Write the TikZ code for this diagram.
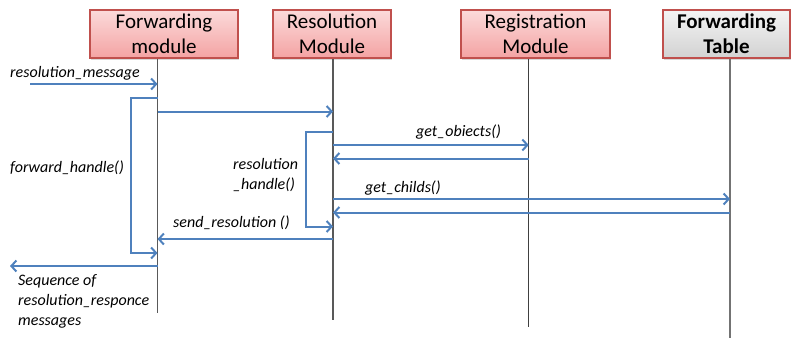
\documentclass[tikz,border=0pt]{standalone}
\usepackage{fontspec}
\setmainfont{Carlito}
\usetikzlibrary{arrows.meta,shadows}
\definecolor{boxred}{HTML}{C0504D}
\definecolor{pinktop}{HTML}{FBDADA}
\definecolor{pinkbot}{HTML}{F4A3A3}
\definecolor{graytop}{HTML}{F4F4F4}
\definecolor{graybot}{HTML}{D2D2D2}
\definecolor{msgblue}{HTML}{4F81BD}
\definecolor{lifegray}{HTML}{595959}
\begin{document}
\begin{tikzpicture}[x=1pt,y=-1pt,
  modbox/.style={draw=boxred, line width=1.8pt, top color=pinktop, bottom color=pinkbot,
    minimum height=48pt, align=center, inner sep=0pt,
    font=\fontsize{21}{25}\selectfont,
    drop shadow={shadow xshift=1.2pt, shadow yshift=-1.5pt, opacity=0.3}},
  tablebox/.style={modbox, top color=graytop, bottom color=graybot, font=\fontsize{21}{25}\selectfont\bfseries},
  lifeline/.style={draw=lifegray, line width=1.5pt},
  msg/.style={draw=msgblue, line width=2pt, -{Straight Barb[length=5pt,width=11pt,line width=2pt]}},
  lbl/.style={font=\fontsize{16}{20}\selectfont\itshape, inner sep=0pt, anchor=west, align=left}]
\useasboundingbox (0,0) rectangle (791,338);

% module boxes
\node[modbox, minimum width=148pt] (fm) at (164,34) {Forwarding\\module};
\node[modbox, minimum width=118pt] (rm) at (332,34) {Resolution\\Module};
\node[modbox, minimum width=149pt] (gm) at (535.5,34) {Registration\\Module};
\node[tablebox, minimum width=127pt] (ft) at (726.5,34) {Forwarding\\Table};

% lifeline ends
\coordinate (fmE) at (157.5,313);
\coordinate (rmE) at (333,320);
\coordinate (gmE) at (528.7,327);
\coordinate (ftE) at (730,338);

\draw[lifeline] (fmE |- fm.south) -- (fmE);
\draw[lifeline] (rmE |- rm.south) -- (rmE);
\draw[lifeline, line width=1pt, draw=black!75] (gmE |- gm.south) -- (gmE);
\draw[lifeline, line width=1.8pt, draw=black!55] (ftE |- ft.south) -- (ftE);

% message coordinates
\coordinate (inS) at (30,84);
\coordinate (outE) at (10,266);

% incoming message
\draw[msg] (inS) -- (fmE |- inS);
\node[lbl] (l1) at (10,73) {resolution\_message};

% forward_handle bracket
\draw[msg] (fmE |- 0,98) -- (131,98) -- (131,253) -- (fmE |- 0,253);
\node[lbl] (l2) at (10,167.5) {forward\_handle()};

% forwarding -> resolution
\draw[msg] (fmE |- 0,111.5) -- (rmE |- 0,111.5);

% resolution_handle bracket
\draw[msg] (rmE |- 0,131.5) -- (305.5,131.5) -- (305.5,226.5) -- (rmE |- 0,226.5);
\node[lbl, anchor=north west] (l3) at (233,158.5) {resolution\\\_handle()};

% get_objects
\draw[msg] (rmE |- 0,145) -- (gmE |- 0,145);
\draw[msg] (gmE |- 0,158.5) -- (rmE |- 0,158.5);
\node[lbl] (l4) at (416,132) {get\_obiects()};

% get_childs
\draw[msg] (rmE |- 0,199) -- (ftE |- 0,199);
\draw[msg] (ftE |- 0,212.5) -- (rmE |- 0,212.5);
\node[lbl] (l5) at (365,188) {get\_childs()};

% send_resolution
\draw[msg] (rmE |- 0,239) -- (fmE |- 0,239);
\node[lbl] (l6) at (173,223) {send\_resolution ()};

% outgoing
\draw[msg] (fmE |- outE) -- (outE);
\node[lbl, anchor=north west] (l7) at (18,274) {Sequence of\\resolution\_responce\\messages};
\end{tikzpicture}
\end{document}
